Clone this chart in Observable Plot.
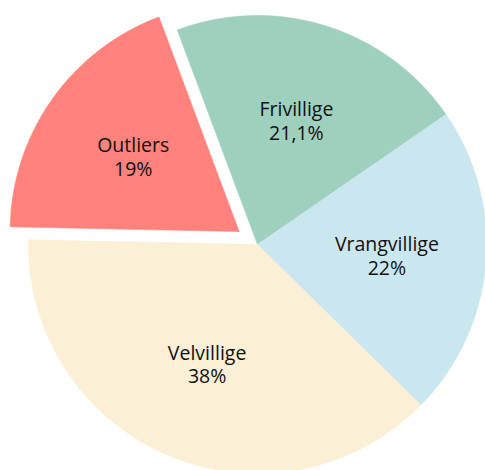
<!DOCTYPE html>
<html>
<head>
<meta charset="utf-8">
<script src="https://cdn.jsdelivr.net/npm/d3@7"></script>
<script src="https://cdn.jsdelivr.net/npm/@observablehq/plot@0.6"></script>
<style>
  html, body { margin: 0; padding: 0; background: #fff; }
  #chart svg { display: block; }
</style>
</head>
<body>
<div id="chart"></div>
<script>
// Data
const categories = ["Frivillige", "Vrangvillige", "Velvillige", "Outliers"];
const values = [21.1, 22, 38, 19];
const valueLabels = ["21,1%", "22%", "38%", "19%"];
const colors = ["#9ed0be", "#cae6ef", "#fbefd5", "#ff837c"];
const sliced = [false, false, false, true];

// Layout
const W = 485, H = 470;
const R = 229, CX = 257, CY = 244;
const startDeg = -20.5;
const sliceOffset = 22.5 / R;
const labelRadius = 0.567;

const rows = categories.map((c, i) => ({name: c, value: values[i], label: valueLabels[i], sliced: sliced[i]}));
const a0 = startDeg * Math.PI / 180;
const arcs = d3.pie().sort(null).value(d => d.value).startAngle(a0).endAngle(a0 + 2 * Math.PI)(rows);

const pts = [];
const labelsData = [];
for (const a of arcs) {
  const mid = (a.startAngle + a.endAngle) / 2;
  const off = a.data.sliced ? sliceOffset : 0;
  const ox = off * Math.sin(mid), oy = off * Math.cos(mid);
  pts.push({name: a.data.name, x: ox, y: oy});
  const n = 200;
  for (let k = 0; k <= n; k++) {
    const t = a.startAngle + (a.endAngle - a.startAngle) * k / n;
    pts.push({name: a.data.name, x: ox + Math.sin(t), y: oy + Math.cos(t)});
  }
  pts.push({name: a.data.name, x: ox, y: oy});
  labelsData.push({
    name: a.data.name,
    text: a.data.name + "\n" + a.data.label,
    x: ox + labelRadius * Math.sin(mid),
    y: oy + labelRadius * Math.cos(mid)
  });
}

const chart = Plot.plot({
  width: W,
  height: H,
  margin: 0,
  x: {domain: [-CX / R, (W - CX) / R], axis: null},
  y: {domain: [-(H - CY) / R, CY / R], axis: null},
  color: {domain: categories, range: colors},
  style: {background: "#fff"},
  marks: [
    Plot.line(pts, {x: "x", y: "y", z: "name", fill: "name", stroke: "name", strokeWidth: 0.6, curve: "linear"}),
    Plot.text(labelsData, {
      x: "x", y: "y", text: "text",
      fontSize: 19.5, lineHeight: 1.2,
      fill: "#111",
      fontFamily: "'Open Sans', sans-serif"
    })
  ]
});
document.getElementById("chart").appendChild(chart);
</script>
</body>
</html>
